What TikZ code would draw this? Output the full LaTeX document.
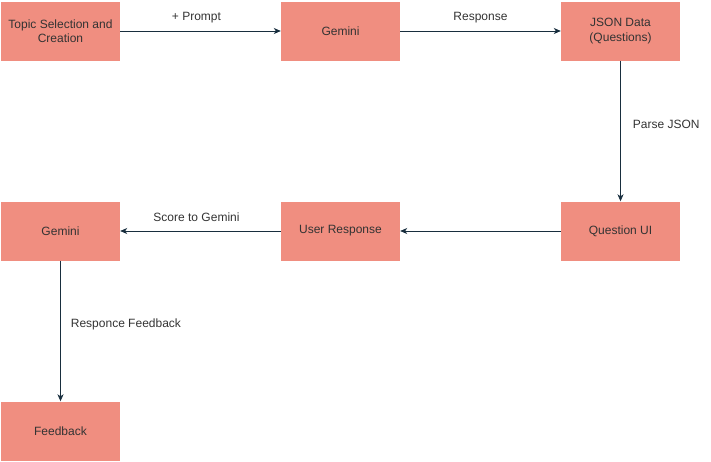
\documentclass[tikz,border=0pt]{standalone}
\usepackage{fontspec}
\setmainfont{Liberation Sans}
\usepackage{xcolor}
\usetikzlibrary{arrows, arrows.meta}
\usetikzlibrary{positioning}
\definecolor{boxfill}{HTML}{F08E80}
\definecolor{linkcol}{HTML}{182E3E}
\definecolor{txtcol}{HTML}{333333}
\tikzset{
	stagebox/.style={fill=boxfill, minimum width=119pt, minimum height=59pt, inner sep=0pt, align=center, text=txtcol, font=\fontsize{12}{14.5}\selectfont},
	link/.style={draw=linkcol, line width=0.8pt, -{Stealth[length=7pt,width=6pt,inset=2pt]}},
	linklabel/.style={inner sep=0pt, text=txtcol, font=\fontsize{12}{14}\selectfont}
}
\begin{document}
\begin{tikzpicture}[x=1pt, y=-1pt]
				\useasboundingbox (0,0) rectangle (711,461);
				% draw boxes
				\node[stagebox] (topic) at (60.5,31) {Topic Selection and\\Creation};
				\node[stagebox] (gemA) at (340.5,31) {Gemini};
				\node[stagebox] (json) at (620.5,31) {JSON Data\\(Questions)};
				\node[stagebox] (qui) at (620.5,231) {Question UI};
				\node[stagebox] (uresp) at (340.5,231) {User Response};
				\node[stagebox] (gemB) at (60.5,231) {Gemini};
				\node[stagebox] (feedb) at (60.5,431) {Feedback};
				
				% draw arrows
				\draw[link] (topic) -- (gemA) node[linklabel, midway, above=8pt, xshift=-4pt] {+ Prompt};
				\draw[link] (gemA) -- (json) node[linklabel, midway, above=8pt] {Response};
				\draw[link] (json) -- (qui) node[linklabel, pos=0.45, right=12pt] {Parse JSON};
				\draw[link] (qui) -- (uresp);
				\draw[link] (uresp) -- (gemB) node[linklabel, midway, above=9pt, xshift=-4pt] {Score to Gemini};
				\draw[link] (gemB) -- (feedb) node[linklabel, pos=0.45, right=10pt] {Responce Feedback};
			\end{tikzpicture}
\end{document}
